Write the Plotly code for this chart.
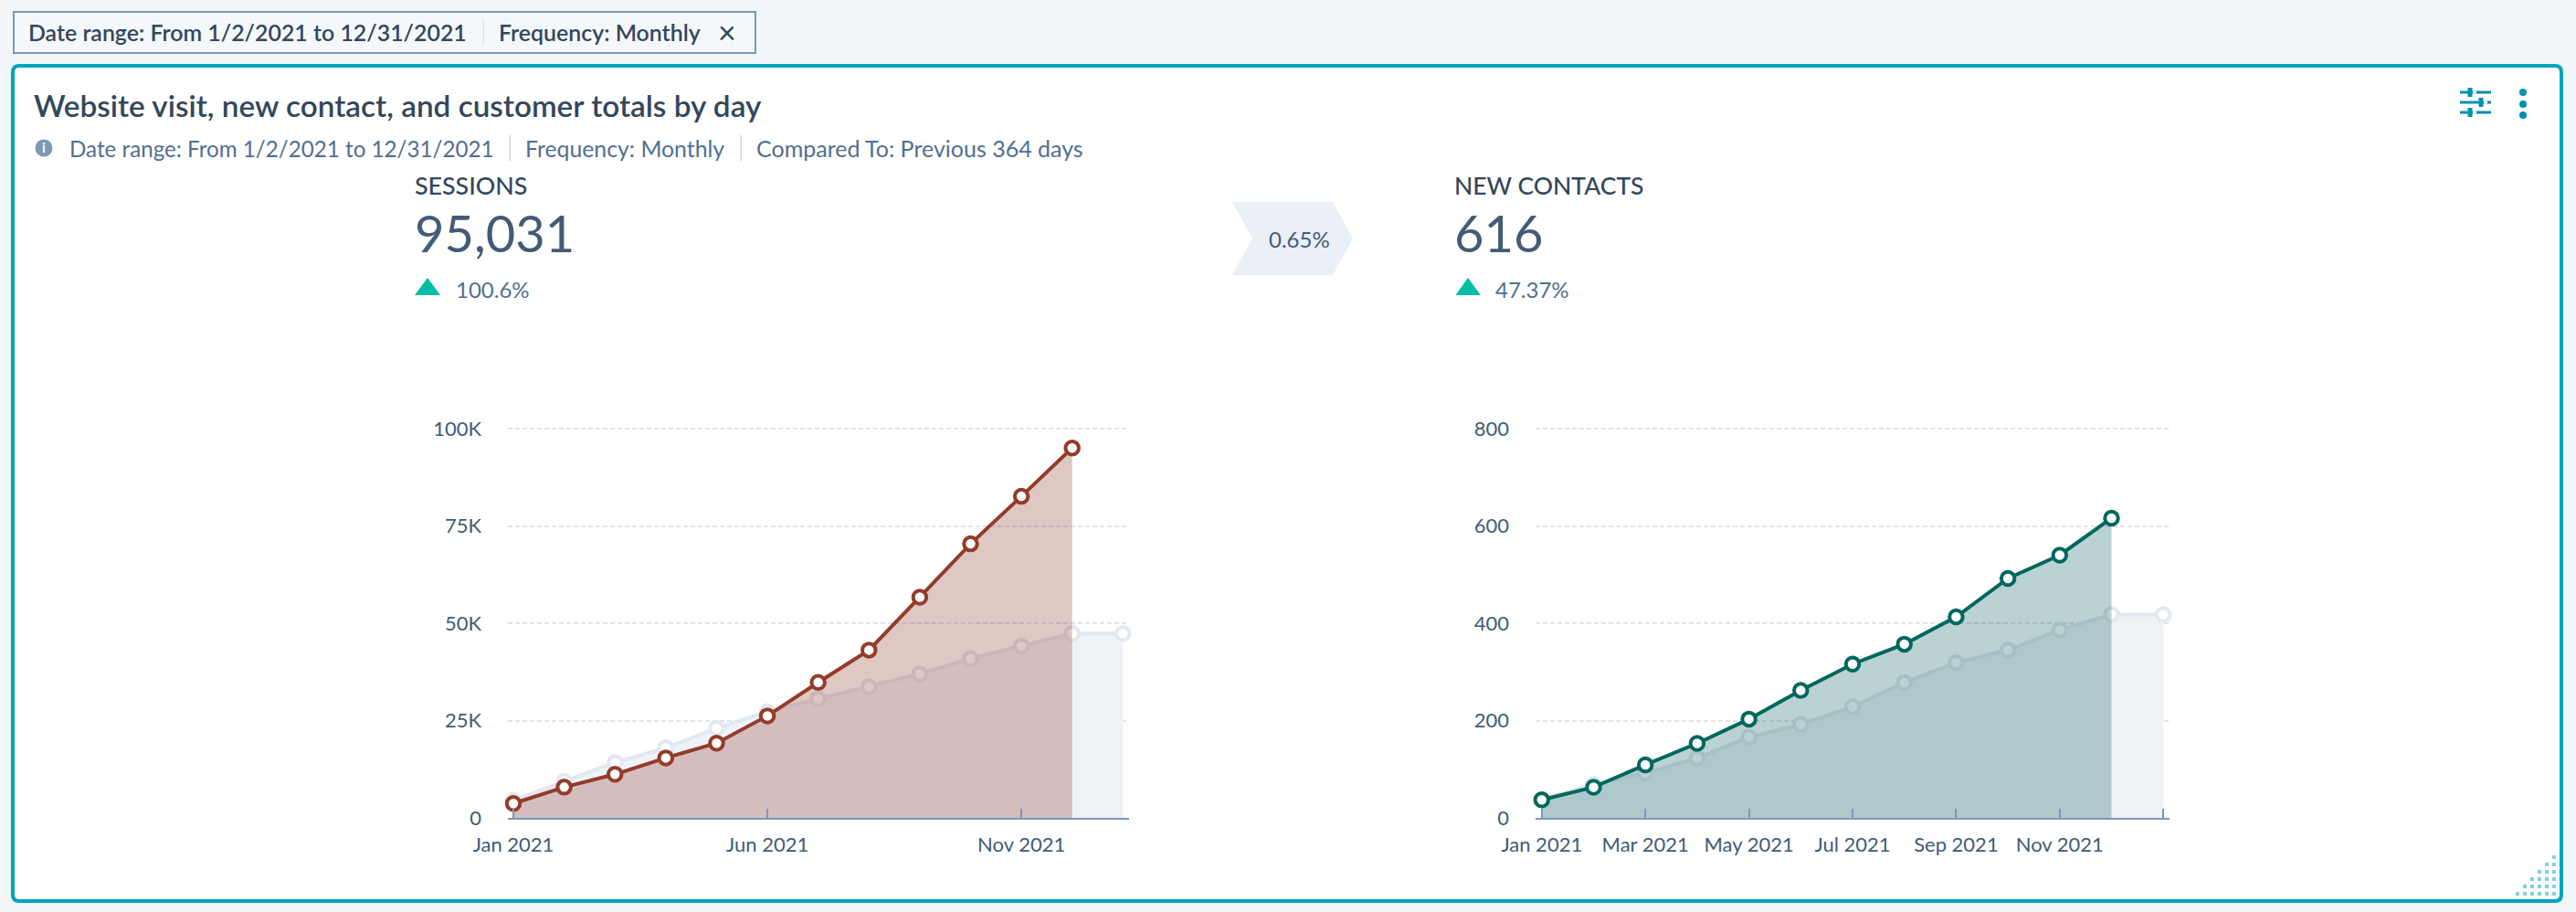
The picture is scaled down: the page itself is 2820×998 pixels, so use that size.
import plotly.graph_objects as go

W, H = 2820, 998

months = ["Jan 2021", "Feb 2021", "Mar 2021", "Apr 2021", "May 2021", "Jun 2021", "Jul 2021",
          "Aug 2021", "Sep 2021", "Oct 2021", "Nov 2021", "Dec 2021", "Jan 2022"]

sessions_current = [3700, 7900, 11200, 15400, 19200, 26200, 34800, 43100, 56700, 70400, 82600, 95031]
sessions_previous = [4500, 9400, 14200, 18000, 23000, 27300, 30600, 33700, 37000, 40900, 44100, 47373, 47373]
contacts_current = [37, 63, 109, 153, 203, 262, 316, 357, 413, 492, 540, 616]
contacts_previous = [38, 69, 92, 123, 166, 192, 228, 278, 319, 345, 386, 418, 418]

sessions_ticks = ["Jan 2021", "Jun 2021", "Nov 2021"]
sessions_ticktext = ["Jan 2021", "Jun 2021", "Nov 2021"]
contacts_ticks = ["Jan 2021", "Mar 2021", "May 2021", "Jul 2021", "Sep 2021", "Nov 2021", "Jan 2022"]
contacts_ticktext = ["Jan 2021", "Mar 2021", "May 2021", "Jul 2021", "Sep 2021", "Nov 2021", ""]

sessions_yticks = [0, 25000, 50000, 75000, 100000]
sessions_ylabels = ["0", "25K", "50K", "75K", "100K"]
contacts_yticks = [0, 200, 400, 600, 800]
contacts_ylabels = ["0", "200", "400", "600", "800"]

DARK = "#33475b"
MID = "#425b76"
SOFT = "#516f90"
AXIS = "#7c98b6"
GRID = "#dfe3eb"
TEAL = "#00a4bd"
ICON = "#0091ae"
GREEN = "#00bda5"
PREV_LINE = "#e1e8f0"
PREV_FILL = "#eef3f7"
FONT = "Lato"


def px(x):
    return x / W


def py(y):
    return 1 - y / H


shapes = []
annotations = []


def rect(x0, y0, x1, y1, fill, line=None, lw=0, layer="below"):
    shapes.append(dict(type="rect", xref="paper", yref="paper", x0=px(x0), x1=px(x1), y0=py(y1), y1=py(y0),
                       fillcolor=fill, line=dict(color=line or fill, width=lw), layer=layer))


def rounded(x0, y0, x1, y1, r, fill, line, lw):
    p = lambda a, b: f"{px(a):.5f},{py(b):.5f}"
    path = (f"M {p(x0 + r, y0)} L {p(x1 - r, y0)} Q {p(x1, y0)} {p(x1, y0 + r)} "
            f"L {p(x1, y1 - r)} Q {p(x1, y1)} {p(x1 - r, y1)} "
            f"L {p(x0 + r, y1)} Q {p(x0, y1)} {p(x0, y1 - r)} "
            f"L {p(x0, y0 + r)} Q {p(x0, y0)} {p(x0 + r, y0)} Z")
    shapes.append(dict(type="path", xref="paper", yref="paper", path=path, fillcolor=fill,
                       line=dict(color=line, width=lw), layer="below"))


def poly(points, fill):
    path = "M " + " L ".join(f"{px(a):.5f},{py(b):.5f}" for a, b in points) + " Z"
    shapes.append(dict(type="path", xref="paper", yref="paper", path=path, fillcolor=fill,
                       line=dict(width=0), layer="below"))


def circle(cx, cy, r, fill):
    shapes.append(dict(type="circle", xref="paper", yref="paper", x0=px(cx - r), x1=px(cx + r),
                       y0=py(cy + r), y1=py(cy - r), fillcolor=fill, line=dict(width=0), layer="below"))


def text(x, y, s, size, color, weight=400, anchor="left"):
    annotations.append(dict(xref="paper", yref="paper", x=px(x), y=py(y), text=s, showarrow=False,
                            xanchor=anchor, yanchor="middle", borderpad=0,
                            font=dict(family=FONT, size=size, color=color, weight=weight)))


# page furniture
rect(15, 13, 827, 58, "#f5f8fa", AXIS, 2)
rounded(14, 72, 2804, 986, 7, "#ffffff", TEAL, 4)
rect(528.5, 20, 530, 50, "#dfe3eb")
text(30, 35, "Date range: From 1/2/2021 to 12/31/2021", 24.9, DARK, 600)
text(545, 35, "Frequency: Monthly", 24.9, DARK, 600)
text(796, 35, "×", 34, DARK, 400, "center")

text(36, 115.5, "Website visit, new contact, and customer totals by day", 33.3, DARK, 600)
circle(48, 162, 9.5, AXIS)
text(48, 161, "i", 15, "#ffffff", 700, "center")
text(75, 162, "Date range: From 1/2/2021 to 12/31/2021", 24.2, SOFT)
rect(557.5, 148, 559, 176, "#cbd6e2")
text(574, 162, "Frequency: Monthly", 24.8, SOFT)
rect(810.5, 148, 812, 176, "#cbd6e2")
text(827, 162, "Compared To: Previous 364 days", 25, SOFT)

text(453, 203, "SESSIONS", 26.8, DARK, 500)
text(453, 255, "95,031", 56, MID, 400)
poly([(454, 323), (482, 323), (468, 304)], GREEN)
text(498, 316, "100.6%", 24, SOFT)

poly([(1349, 221), (1459, 221), (1481, 261), (1459, 301), (1349, 301), (1371, 261)], "#eaf0f6")
text(1422, 261, "0.65%", 24, MID, 400, "center")

text(1591, 203, "NEW CONTACTS", 26.5, DARK, 500)
text(1591, 255, "616", 56, MID, 400)
poly([(1593.5, 323), (1621, 323), (1607, 304)], GREEN)
text(1636, 316, "47.37%", 24, SOFT)

# icons, top right
for row_y, knob_x in ((101, 2704), (112, 2716), (123, 2704)):
    rect(2693, row_y - 1.5, 2727, row_y + 1.5, ICON)
    rect(knob_x - 2.5, row_y - 5, knob_x + 2.5, row_y + 5, ICON)
    rect(knob_x + 3, row_y - 1.5, knob_x + 7, row_y + 1.5, "#ffffff")
for dot_y in (101, 114, 126):
    circle(2762, dot_y, 4, ICON)

# resize grip, bottom right
for row in range(6):
    for col in range(row, 6):
        gx = 2756 + col * 8
        gy = 978 - row * 8
        rect(gx - 2, gy - 2, gx + 2, gy + 2, "#7fd1de", layer="above")

fig = go.Figure()


def add_panel(suffix, current, previous, color, fillcolor):
    fig.add_trace(go.Scatter(
        x=months, y=previous, xaxis="x" + suffix, yaxis="y" + suffix, mode="lines+markers",
        fill="tozeroy", fillcolor=PREV_FILL, line=dict(color=PREV_LINE, width=4),
        marker=dict(size=14.5, color="#ffffff", line=dict(color=PREV_LINE, width=4)),
        cliponaxis=False, showlegend=False, hoverinfo="skip"))
    fig.add_trace(go.Scatter(
        x=months[:len(current)], y=current, xaxis="x" + suffix, yaxis="y" + suffix, mode="lines+markers",
        fill="tozeroy", fillcolor=fillcolor, line=dict(color=color, width=4),
        marker=dict(size=14.5, color="#ffffff", line=dict(color=color, width=4)),
        cliponaxis=False, showlegend=False, hoverinfo="skip"))


add_panel("", sessions_current, sessions_previous, "#943b2a", "rgba(146,62,48,0.29)")
add_panel("2", contacts_current, contacts_previous, "#00675f", "rgba(0,90,90,0.27)")


def x_axis(left, right, rng, tickvals, ticktext, anchor):
    return dict(domain=[px(left), px(right)], type="category", categoryorder="array", categoryarray=months,
                range=rng, tickmode="array", tickvals=tickvals, ticktext=ticktext, ticks="inside",
                ticklen=10, tickwidth=1.5, tickcolor=AXIS, showline=True, linecolor=AXIS, linewidth=2,
                showgrid=False, zeroline=False, anchor=anchor, tickangle=0, automargin=False,
                ticklabelstandoff=9, tickfont=dict(family=FONT, size=22, color=MID))


def y_axis(top, tickvals, ticktext, anchor):
    return dict(domain=[py(895), py(467)], range=[0, top * 428 / 426], tickmode="array", tickvals=tickvals,
                ticktext=ticktext, ticks="", showline=False, showgrid=True, gridcolor=GRID, gridwidth=1.5,
                griddash="5px,3px", zeroline=False, anchor=anchor, ticklabelstandoff=28, automargin=False,
                tickfont=dict(family=FONT, size=22, color=MID))


fig.update_layout(
    width=W, height=H, autosize=False, margin=dict(l=0, r=0, t=0, b=0),
    paper_bgcolor="#f3f6f9", plot_bgcolor="rgba(0,0,0,0)", showlegend=False,
    font=dict(family=FONT), shapes=shapes, annotations=annotations,
    xaxis=x_axis(556, 1236, [-0.108, 12.12], sessions_ticks, sessions_ticktext, "y"),
    yaxis=y_axis(100000, sessions_yticks, sessions_ylabels, "x"),
    xaxis2=x_axis(1681, 2375, [-0.12, 12.12], contacts_ticks, contacts_ticktext, "y2"),
    yaxis2=y_axis(800, contacts_yticks, contacts_ylabels, "x2"),
)

fig.write_html("out.html", config=dict(displayModeBar=False),
               post_script="document.body.style.margin='0';document.body.style.overflow='hidden';")
